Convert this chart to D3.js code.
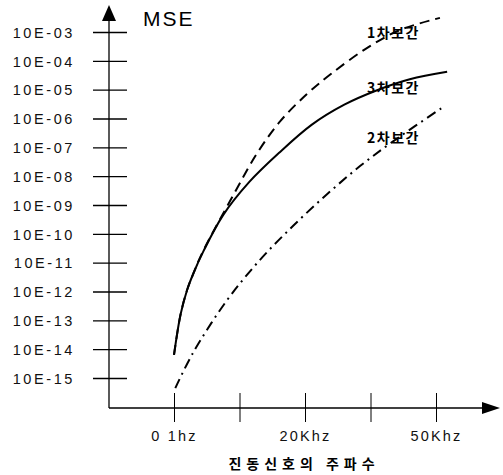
<!DOCTYPE html>
<html>
<head>
<meta charset="utf-8">
<script src="https://cdn.jsdelivr.net/npm/d3@7"></script>
<style>
  body { margin: 0; background: #fff; }
  svg { display: block; }
</style>
</head>
<body>
<svg id="chart" width="503" height="475"></svg>
<script>
// 축 눈금 (y: 지수, x: 주파수 위치)
const yTickExps = [-3, -4, -5, -6, -7, -8, -9, -10, -11, -12, -13, -14, -15];
const yTickLabels = ["10E-03", "10E-04", "10E-05", "10E-06", "10E-07", "10E-08", "10E-09",
  "10E-10", "10E-11", "10E-12", "10E-13", "10E-14", "10E-15"];
const xTickPos = [0, 1, 2, 3, 4];
const xTickLabels = ["0 1hz", "", "20Khz", "", "50Khz"];

// 보간 방식별 MSE (지수값)
const linX = [0.00, 0.10, 0.20, 0.30, 0.44, 0.90, 1.27, 1.62, 2.03, 2.40, 2.95, 3.45, 4.06];
const linE = [-14.2, -12.8, -11.95, -11.35, -10.62, -8.68, -7.20, -6.10, -5.15, -4.45, -3.55, -2.93, -2.51];

const cubX = [0.00, 0.10, 0.20, 0.30, 0.45, 0.75, 1.15, 1.60, 2.10, 2.60, 3.10, 3.60, 4.17];
const cubE = [-14.2, -12.8, -11.95, -11.35, -10.60, -9.35, -8.20, -7.20, -6.22, -5.52, -5.02, -4.64, -4.38];

const quaX = [0.02, 0.29, 0.81, 1.31, 1.82, 2.34, 2.84, 3.34, 4.11];
const quaE = [-15.35, -14.13, -12.30, -10.91, -9.72, -8.62, -7.65, -6.80, -5.60];

const seriesNames = ["1차보간", "3차보간", "2차보간"];

const svg = d3.select("#chart");

const originX = 109, originY = 408;
const xScale = d3.scaleLinear().domain([0, 4]).range([174, 436]);
const yScale = d3.scaleLinear().domain([-3, -15]).range([32, 378]);

const latin = "'Liberation Sans', Arial, sans-serif";
const kr = "'Noto Sans CJK KR', sans-serif";

// 축 선
svg.append("line")
  .attr("x1", originX).attr("x2", originX)
  .attr("y1", originY).attr("y2", 18)
  .attr("stroke", "#000").attr("stroke-width", 1.3);
svg.append("line")
  .attr("x1", originX).attr("x2", 486)
  .attr("y1", originY).attr("y2", originY)
  .attr("stroke", "#000").attr("stroke-width", 1.5);

// 화살표
svg.append("path")
  .attr("d", `M${originX},5 L${originX - 7},21 L${originX + 7},21 Z`)
  .attr("fill", "#000");
svg.append("path")
  .attr("d", `M500,${originY} L482,${originY - 6} L482,${originY + 6} Z`)
  .attr("fill", "#000");

// y 축 눈금
const yAxis = d3.axisLeft(yScale)
  .tickValues(yTickExps)
  .tickSize(0)
  .tickFormat((d, i) => yTickLabels[i]);
const gy = svg.append("g").attr("transform", `translate(${originX},0)`).call(yAxis);
gy.select(".domain").remove();
gy.selectAll(".tick line")
  .attr("x1", -16).attr("x2", 18)
  .attr("stroke", "#000").attr("stroke-width", 1.3);
gy.selectAll(".tick text")
  .attr("x", -34)
  .attr("dy", "0.36em")
  .style("font-family", latin)
  .style("font-size", "14.5px")
  .style("letter-spacing", "2.6px")
  .attr("fill", "#111");

// x 축 눈금
const xAxis = d3.axisBottom(xScale)
  .tickValues(xTickPos)
  .tickSize(0)
  .tickFormat((d, i) => xTickLabels[i]);
const gx = svg.append("g").attr("transform", `translate(0,${originY})`).call(xAxis);
gx.select(".domain").remove();
gx.selectAll(".tick line")
  .attr("y1", -15).attr("y2", 14)
  .attr("stroke", "#000").attr("stroke-width", 1);
gx.selectAll(".tick text")
  .attr("y", 33)
  .attr("dy", 0)
  .style("font-family", latin)
  .style("font-size", "14.5px")
  .style("letter-spacing", "2.2px")
  .attr("fill", "#111");

// 축 제목
svg.append("text")
  .attr("x", 143).attr("y", 26)
  .style("font-family", latin)
  .style("font-size", "21px")
  .style("letter-spacing", "2px")
  .text("MSE");

svg.append("text")
  .attr("x", 304).attr("y", 469)
  .attr("text-anchor", "middle")
  .style("font-family", kr)
  .style("font-size", "14px")
  .style("font-weight", "bold")
  .style("letter-spacing", "5px")
  .text("진동신호의 주파수");

// 곡선
const line = d3.line()
  .x(d => xScale(d[0]))
  .y(d => yScale(d[1]))
  .curve(d3.curveCatmullRom.alpha(0.5));

const series = [
  { xs: linX, es: linE, dash: "10,6" },
  { xs: cubX, es: cubE, dash: null },
  { xs: quaX, es: quaE, dash: "10,5,2,5" }
];

series.forEach(s => {
  const pts = s.xs.map((x, i) => [x, s.es[i]]);
  svg.append("path")
    .datum(pts)
    .attr("d", line)
    .attr("fill", "none")
    .attr("stroke", "#000")
    .attr("stroke-width", 2)
    .attr("stroke-dasharray", s.dash);
});

// 곡선 이름
const labelY = [-3.2, -5.1, -6.85];
seriesNames.forEach((name, i) => {
  svg.append("text")
    .attr("x", 367)
    .attr("y", yScale(labelY[i]))
    .style("font-family", kr)
    .style("font-size", "14px")
    .style("font-weight", "bold")
    .style("letter-spacing", "1.5px")
    .text(name);
});
</script>
</body>
</html>
